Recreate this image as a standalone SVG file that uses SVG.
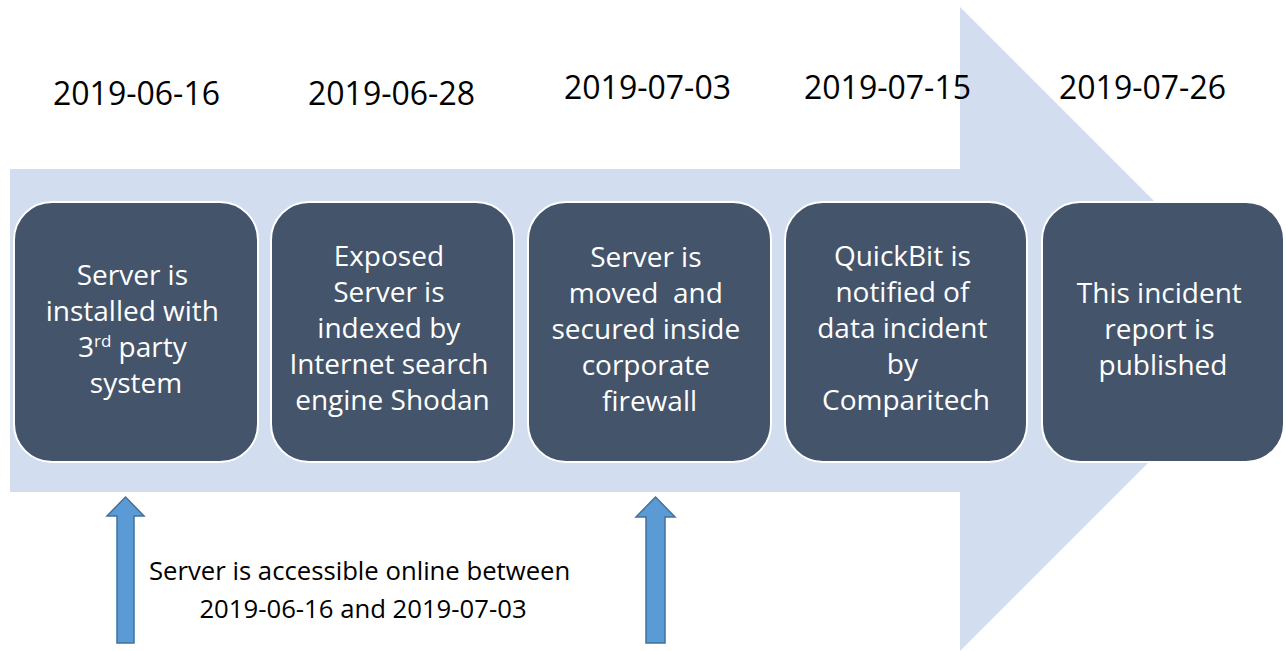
<svg xmlns="http://www.w3.org/2000/svg" width="1286" height="651" viewBox="0 0 1286 651">
  <style>
    .date { font-family: "Open Sans", "Liberation Sans", sans-serif; font-size: 32px; fill: #000000; text-anchor: middle; }
    .box { fill: #44546A; stroke: #FFFFFF; stroke-width: 2; }
    .label { font-family: "Open Sans", "Liberation Sans", sans-serif; font-size: 28px; fill: #FFFFFF; text-anchor: middle; }
    .note { font-family: "Open Sans", "Liberation Sans", sans-serif; font-size: 25.7px; fill: #000000; text-anchor: middle; }
    .up { fill: #5B9BD5; stroke: #41719C; stroke-width: 1.5; }
  </style>
  <rect width="1286" height="651" fill="#FFFFFF"/>

  <!-- timeline backbone arrow -->
  <g id="timeline-arrow">
    <path d="M10,169 H960 V7 L1282,329 L960,651 V492 H10 Z" fill="#D2DDEF"/>
  </g>

  <!-- dates -->
  <g id="dates">
    <text class="date" x="136.5" y="105">2019-06-16</text>
    <text class="date" x="391.5" y="105">2019-06-28</text>
    <text class="date" x="647.5" y="99">2019-07-03</text>
    <text class="date" x="887.5" y="99">2019-07-15</text>
    <text class="date" x="1142.5" y="99">2019-07-26</text>
  </g>

  <!-- events -->
  <g id="event-1">
    <rect class="box" x="14" y="202" width="244" height="260" rx="38" ry="38"/>
    <text class="label">
      <tspan x="136" y="285">Server is</tspan>
      <tspan x="136" y="321">installed with</tspan>
      <tspan x="136" y="357">3<tspan font-size="17" dy="-10">rd</tspan><tspan dy="10"> party</tspan></tspan>
      <tspan x="136" y="393">system</tspan>
    </text>
  </g>
  <g id="event-2">
    <rect class="box" x="271" y="202" width="243" height="260" rx="38" ry="38"/>
    <text class="label">
      <tspan x="392.5" y="266">Exposed</tspan>
      <tspan x="392.5" y="302">Server is</tspan>
      <tspan x="392.5" y="338">indexed by</tspan>
      <tspan x="392.5" y="374">Internet search</tspan>
      <tspan x="392.5" y="410">engine Shodan</tspan>
    </text>
  </g>
  <g id="event-3">
    <rect class="box" x="528" y="202" width="243" height="260" rx="38" ry="38"/>
    <text class="label">
      <tspan x="649.5" y="267">Server is</tspan>
      <tspan x="649.5" y="303" xml:space="preserve">moved  and</tspan>
      <tspan x="649.5" y="339">secured inside</tspan>
      <tspan x="649.5" y="375">corporate</tspan>
      <tspan x="649.5" y="411">firewall</tspan>
    </text>
  </g>
  <g id="event-4">
    <rect class="box" x="785" y="202" width="242" height="260" rx="38" ry="38"/>
    <text class="label">
      <tspan x="906" y="266">QuickBit is</tspan>
      <tspan x="906" y="302">notified of</tspan>
      <tspan x="906" y="338">data incident</tspan>
      <tspan x="906" y="374">by</tspan>
      <tspan x="906" y="410">Comparitech</tspan>
    </text>
  </g>
  <g id="event-5">
    <rect class="box" x="1042" y="202" width="242" height="260" rx="38" ry="38"/>
    <text class="label">
      <tspan x="1163" y="303">This incident</tspan>
      <tspan x="1163" y="339">report is</tspan>
      <tspan x="1163" y="375">published</tspan>
    </text>
  </g>

  <!-- exposure window markers -->
  <g id="connectors">
    <path class="up" d="M125.5,497 L144,516 H134 V643 H117 V516 H107 Z"/>
    <path class="up" d="M655.5,497 L675,517 H665 V643 H646 V517 H636 Z"/>
  </g>

  <g id="exposure-note">
    <text class="note">
      <tspan x="363" y="580">Server is accessible online between</tspan>
      <tspan x="363" y="618">2019-06-16 and 2019-07-03</tspan>
    </text>
  </g>
</svg>
